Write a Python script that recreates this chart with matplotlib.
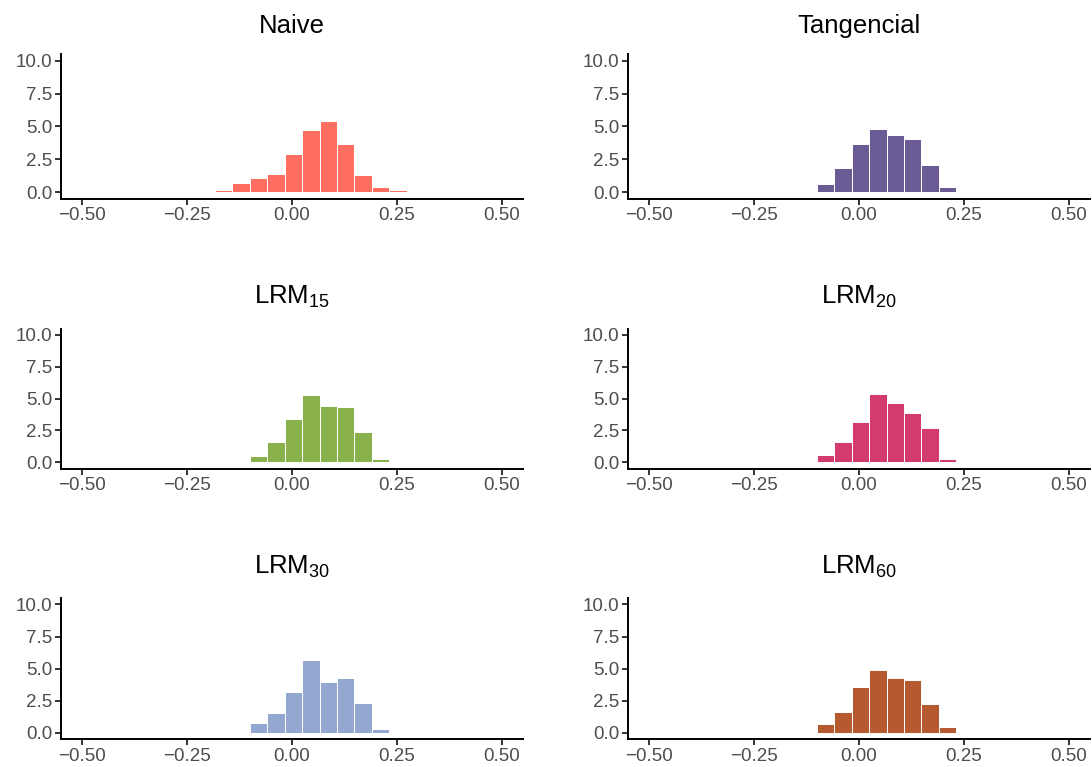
import matplotlib
matplotlib.use("Agg")
import matplotlib.pyplot as plt

plt.rcParams['font.family'] = ['Liberation Sans', 'DejaVu Sans']
plt.rcParams['mathtext.fontset'] = 'custom'
plt.rcParams['mathtext.rm'] = 'Liberation Sans'
plt.rcParams['mathtext.it'] = 'Liberation Sans'
plt.rcParams['mathtext.default'] = 'regular'

# ---- data ----
bin_edges = [-0.2665, -0.225, -0.1835, -0.142, -0.1005, -0.059, -0.0175,
             0.024, 0.0655, 0.107, 0.1485, 0.190, 0.2315, 0.273]

titles = ["Naive", "Tangencial", "LRM$_{15}$", "LRM$_{20}$", "LRM$_{30}$", "LRM$_{60}$"]

naive      = [0, 0, 0.15, 0.70, 1.05, 1.40, 2.90, 4.70, 5.40, 3.70, 1.30, 0.40, 0.20]
tangencial = [0, 0, 0, 0.04, 0.62, 1.83, 3.66, 4.80, 4.36, 4.05, 2.09, 0.37, 0]
lrm15      = [0.05, 0, 0, 0, 0.52, 1.57, 3.42, 5.25, 4.46, 4.31, 2.35, 0.23, 0]
lrm20      = [0, 0, 0, 0, 0.55, 1.59, 3.13, 5.38, 4.65, 3.84, 2.69, 0.23, 0]
lrm30      = [0, 0, 0, 0, 0.76, 1.54, 3.21, 5.69, 3.97, 4.31, 2.30, 0.29, 0]
lrm60      = [0, 0, 0, 0, 0.68, 1.62, 3.55, 4.93, 4.31, 4.15, 2.27, 0.44, 0]
series = [naive, tangencial, lrm15, lrm20, lrm30, lrm60]

colors = ["#FF6F61", "#6B5B95", "#88B04B", "#D33A6E", "#92A8D1", "#B55A30"]

x_ticks = [-0.50, -0.25, 0.00, 0.25, 0.50]
x_ticklabels = ["\u22120.50", "\u22120.25", "0.00", "0.25", "0.50"]
y_ticks = [0.0, 2.5, 5.0, 7.5, 10.0]
y_ticklabels = ["0.0", "2.5", "5.0", "7.5", "10.0"]

# ---- layout (pixels) ----
W, H = 1092, 767
fig = plt.figure(figsize=(W / 100, H / 100), dpi=100)

col_x = [(61, 523), (628, 1090)]
row_y = [(54.1, 198.9), (328.6, 468.7), (598.0, 739.4)]   # top, bottom
title_base = [33, 304, 574]

widths = [bin_edges[i + 1] - bin_edges[i] for i in range(len(bin_edges) - 1)]
lefts = bin_edges[:-1]

for i, (vals, col, title) in enumerate(zip(series, colors, titles)):
    r, c = divmod(i, 2)
    x0, x1 = col_x[c]
    top, bot = row_y[r]
    ax = fig.add_axes([x0 / W, 1 - bot / H, (x1 - x0) / W, (bot - top) / H])
    ax.bar(lefts, vals, width=widths, align='edge', color=col,
           edgecolor='white', linewidth=0.7)
    ax.set_xlim(-0.55, 0.55)
    ax.set_ylim(-0.5, 10.5)
    ax.set_xticks(x_ticks)
    ax.set_xticklabels(x_ticklabels)
    ax.set_yticks(y_ticks)
    ax.set_yticklabels(y_ticklabels)
    for s in ['top', 'right']:
        ax.spines[s].set_visible(False)
    for s in ['left', 'bottom']:
        ax.spines[s].set_linewidth(1.4)
        ax.spines[s].set_color('black')
    ax.tick_params(axis='both', length=4, width=1.4, color='#333333',
                   labelcolor='#4D4D4D', labelsize=13.5, pad=2)
    fig.text((x0 + x1) / 2 / W, 1 - title_base[r] / H, title,
             ha='center', va='baseline', fontsize=18.5, color='black')

fig.savefig("out.png", dpi=100, facecolor='white')
